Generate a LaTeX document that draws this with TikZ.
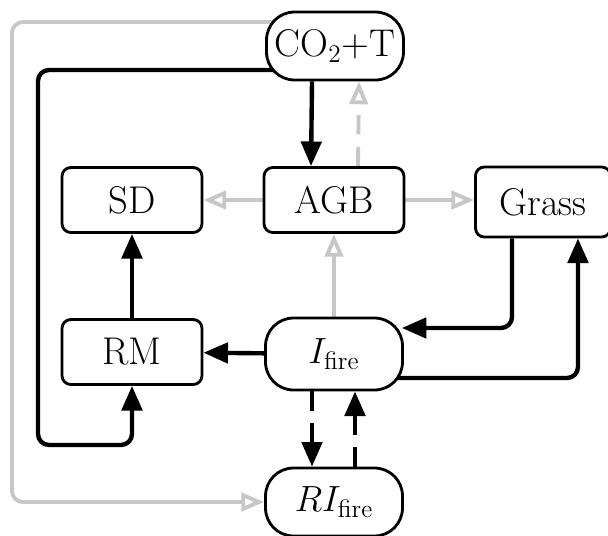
\documentclass[tikz,border=0pt]{standalone}
\usepackage{amsmath}
\usetikzlibrary{arrows.meta,backgrounds}

\begin{document}
\begin{tikzpicture}[
    x=0.02cm, y=-0.02cm,
    line join=round,
    box/.style={draw, line width=1.6pt, rounded corners=5pt, fill=white,
        minimum width=2.8cm, minimum height=1.3cm,
        font=\fontsize{22}{26}\selectfont},
    pill/.style={draw, line width=1.6pt, fill=white, inner sep=0pt,
        minimum width=2.74cm, minimum height=#1, rounded corners=0.56cm,
        font=\fontsize{22}{26}\selectfont},
    blk/.style={line width=2.5pt, rounded corners=0.22cm,
        -{Triangle[length=14pt,width=11.5pt]}},
    gry/.style={line width=2.2pt, draw=black!22, rounded corners=0.22cm,
        -{Triangle[open,length=13pt,width=10.5pt]}},
    dsh/.style={dash pattern=on 11pt off 7pt}
]
\useasboundingbox (0,0) rectangle (608,535);

% Nodes
\node[pill=1.36cm] (co2) at (335,46) {CO$_2$+T};
\node[box] (sd) at (132,200) {SD};
\node[box] (agb) at (334,200) {AGB};
\node[box, minimum width=2.7cm, minimum height=1.4cm] (grass) at (543,202) {Grass};
\node[box] (rm) at (132,352) {RM};
\node[pill=1.44cm] (ifire) at (334,354) {$I_{\mathrm{fire}}$};
\node[pill=1.36cm] (rifire) at (334,502) {$RI_{\mathrm{fire}}$};

\begin{scope}[on background layer]
% Grey links
\draw[gry] (agb) -- (sd);
\draw[gry] (agb.east) -- (agb.east -| grass.west);
\draw[gry] (ifire) -- (agb);
\draw[gry, dsh] ([xshift=0.48cm]agb.north) -- ([xshift=0.48cm]co2.south);
\draw[gry] ([yshift=0.48cm]co2.center) -| (12,300) |- (rifire.west);

% Black links
\draw[blk] ([xshift=-0.46cm]co2.south) -- ([xshift=-0.46cm]agb.north);
\draw[blk] ([yshift=-0.48cm]co2.center) -| (38,445) -| (rm.south);
\draw[blk] (rm) -- (sd);
\draw[blk] (ifire) -- (rm);
\draw[blk] ([xshift=-0.62cm]grass.south) |- ([xshift=-0.04cm]ifire.east |- 0,328);
\draw[blk] ([yshift=-0.48cm]ifire.center) -| ([xshift=0.7cm]grass.south);
\draw[blk, dsh] ([xshift=-0.44cm]ifire.south) -- ([xshift=-0.44cm]rifire.north);
\draw[blk, dsh] ([xshift=0.42cm]rifire.north) -- ([xshift=0.42cm]ifire.south);
\end{scope}
\end{tikzpicture}
\end{document}
